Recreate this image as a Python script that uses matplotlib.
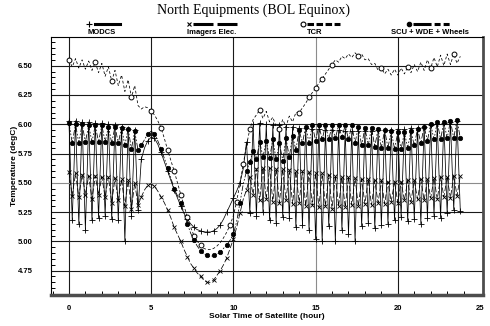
import numpy as np
import matplotlib
matplotlib.use("Agg")
import matplotlib.pyplot as plt
from matplotlib.lines import Line2D

plt.rcParams["lines.scale_dashes"] = False

# sample times (hour), one value every 0.2 h
hours = np.round(np.arange(120) * 0.2, 1)

tcr = [
    6.55, 6.49, 6.56, 6.48, 6.55, 6.47, 6.54, 6.46, 6.53, 6.44,
    6.52, 6.41, 6.49, 6.37, 6.46, 6.33, 6.42, 6.28, 6.38, 6.23,
    6.33, 6.16, 6.13, 6.15, 6.14, 6.11, 6.08, 6.03, 5.97, 5.88,
    5.78, 5.69, 5.60, 5.50, 5.40, 5.30, 5.21, 5.12, 5.05, 5.00,
    4.97, 4.94, 4.93, 4.93, 4.94, 4.96, 4.99, 5.03, 5.08, 5.14,
    5.22, 5.34, 5.50, 5.66, 5.82, 5.96, 6.04, 6.08, 6.12, 6.05,
    6.11, 6.02, 6.06, 5.98, 5.96, 6.04, 5.98, 6.07, 6.02, 6.10,
    6.10, 6.14, 6.18, 6.23, 6.27, 6.31, 6.35, 6.39, 6.43, 6.47,
    6.51, 6.55, 6.53, 6.58, 6.56, 6.60, 6.57, 6.61, 6.58, 6.60,
    6.55, 6.56, 6.51, 6.52, 6.46, 6.48, 6.43, 6.47, 6.42, 6.47,
    6.42, 6.48, 6.43, 6.49, 6.44, 6.51, 6.45, 6.53, 6.46, 6.55,
    6.48, 6.57, 6.49, 6.59, 6.50, 6.60, 6.51, 6.60, 6.52, 6.58,
]

scu = [
    6.01, 5.84, 6.00, 5.84, 6.00, 5.85, 5.99, 5.85, 5.99, 5.85,
    5.99, 5.85, 5.98, 5.84, 5.98, 5.84, 5.97, 5.82, 5.96, 5.79,
    5.94, 5.78, 5.82, 5.87, 5.92, 5.94, 5.92, 5.86, 5.79, 5.71,
    5.63, 5.54, 5.45, 5.39, 5.33, 5.24, 5.15, 5.07, 5.01, 4.96,
    4.92, 4.89, 4.88, 4.87, 4.88, 4.89, 4.91, 4.94, 4.97, 5.01,
    5.06, 5.17, 5.33, 5.49, 5.60, 5.68, 5.77, 5.70, 5.85, 5.72,
    5.86, 5.71, 5.87, 5.70, 5.84, 5.69, 5.88, 5.72, 5.90, 5.78,
    5.95, 5.84, 5.98, 5.84, 5.99, 5.86, 5.99, 5.87, 5.99, 5.87,
    5.99, 5.88, 5.99, 5.89, 5.99, 5.87, 5.99, 5.84, 5.98, 5.82,
    5.97, 5.82, 5.97, 5.81, 5.96, 5.80, 5.95, 5.80, 5.94, 5.79,
    5.93, 5.79, 5.93, 5.80, 5.94, 5.82, 5.96, 5.84, 5.98, 5.86,
    6.00, 5.87, 6.02, 5.87, 6.02, 5.88, 6.03, 5.88, 6.04, 5.88,
]

modcs = [
    6.03, 5.18, 6.03, 5.15, 6.02, 5.10, 6.02, 5.18, 6.01, 5.20,
    6.01, 5.22, 6.00, 5.19, 5.99, 5.18, 5.98, 5.00, 5.96, 5.22,
    5.95, 5.27, 5.70, 5.80, 5.86, 5.89, 5.88, 5.83, 5.76, 5.68,
    5.60, 5.52, 5.44, 5.37, 5.30, 5.24, 5.19, 5.15, 5.12, 5.10,
    5.09, 5.08, 5.08, 5.08, 5.09, 5.11, 5.14, 5.19, 5.25, 5.31,
    5.37, 5.43, 5.50, 5.62, 5.85, 5.24, 6.00, 5.22, 6.01, 5.25,
    6.00, 5.18, 5.99, 5.16, 5.99, 5.21, 5.98, 5.20, 5.98, 5.12,
    5.97, 5.14, 5.97, 5.10, 5.96, 5.02, 5.96, 5.00, 5.95, 5.13,
    5.95, 5.00, 5.95, 5.10, 5.94, 5.06, 5.94, 5.00, 5.94, 5.13,
    5.94, 5.16, 5.94, 5.11, 5.95, 5.14, 5.95, 5.15, 5.95, 5.18,
    5.96, 5.21, 5.96, 5.17, 5.97, 5.19, 5.97, 5.15, 5.98, 5.20,
    5.99, 5.22, 6.00, 5.20, 6.01, 5.24, 6.02, 5.27, 6.03, 5.26,
]

imagers = [
    5.59, 5.39, 5.58, 5.38, 5.57, 5.40, 5.56, 5.36, 5.56, 5.40,
    5.55, 5.38, 5.55, 5.33, 5.54, 5.35, 5.53, 5.30, 5.52, 5.28,
    5.50, 5.31, 5.38, 5.44, 5.48, 5.49, 5.47, 5.43, 5.38, 5.33,
    5.27, 5.20, 5.12, 5.06, 5.00, 4.93, 4.87, 4.81, 4.77, 4.73,
    4.70, 4.67, 4.65, 4.65, 4.67, 4.71, 4.75, 4.80, 4.86, 4.94,
    5.02, 5.12, 5.24, 5.36, 5.44, 5.55, 5.40, 5.62, 5.35, 5.63,
    5.36, 5.63, 5.34, 5.62, 5.33, 5.62, 5.35, 5.61, 5.32, 5.60,
    5.33, 5.60, 5.30, 5.59, 5.31, 5.58, 5.29, 5.58, 5.30, 5.57,
    5.28, 5.56, 5.30, 5.55, 5.29, 5.55, 5.31, 5.54, 5.30, 5.53,
    5.32, 5.53, 5.31, 5.52, 5.33, 5.52, 5.32, 5.51, 5.34, 5.51,
    5.33, 5.51, 5.35, 5.52, 5.34, 5.52, 5.36, 5.53, 5.35, 5.53,
    5.37, 5.54, 5.36, 5.55, 5.38, 5.55, 5.37, 5.56, 5.39, 5.56,
]

labels = ["MODCS", "Imagers Elec.", "TCR", "SCU + WDE + Wheels"]
x_ticks = [0, 5, 10, 15, 20, 25]
y_ticks = [4.75, 5.00, 5.25, 5.50, 5.75, 6.00, 6.25, 6.50]

# marker indices
tcr_marks = [0, 8, 13, 19, 25, 28, 30, 32, 34, 36, 38, 40, 49, 51, 53, 55,
             58, 64, 70, 73, 75, 77, 80, 88, 95, 103, 110, 117]
osc = [i for i in range(120) if i < 22 or i > 54]
smooth = list(range(22, 55, 2))
dense_marks = sorted(osc + smooth)

styles = [
    dict(marker="+", ls="-", ms=4, mew=0.6, markevery=dense_marks),
    dict(marker="x", dashes=(4, 1.5), ms=3, mew=0.6, markevery=dense_marks),
    dict(marker="o", dashes=(2, 1.5), ms=3.5, mew=0.7, mfc="white",
         markevery=tcr_marks),
    dict(marker="o", dashes=(4, 1.2, 1.2, 1.2, 1.2, 1.2), ms=3.2, mew=0.5,
         mfc="black", markevery=dense_marks),
]
series = [modcs, imagers, tcr, scu]

W, H = 490, 326
fig = plt.figure(figsize=(W / 100, H / 100), dpi=100)
ax = fig.add_axes([50.7 / W, 1 - 295 / H, (483 - 50.7) / W, (295 - 37) / H])

sans = "Liberation Sans"

for x in x_ticks[:-1]:
    ax.axvline(x, color="0.55" if x == 15 else "0.1", lw=0.8, zorder=1)
for y in y_ticks:
    ax.axhline(y, color="0.55" if y == 5.50 else "0.1", lw=0.8, zorder=1)

for vals, st in zip(series, styles):
    ax.plot(hours, vals, color="black", lw=0.55, zorder=3, **st)

ax.set_xlim(-1.11, 25.18)
ax.set_ylim(4.542, 6.745)
ax.set_xticks(x_ticks)
ax.set_yticks(y_ticks)
ax.set_xticks(np.arange(-1, 26), minor=True)
ax.set_yticks(np.arange(4.55, 6.75, 0.05), minor=True)
ax.set_yticklabels([f"{v:.2f}" for v in y_ticks])
ax.tick_params(axis="both", which="major", direction="in", length=0,
               labelsize=5.5)
ax.tick_params(axis="y", which="major", pad=13)
ax.tick_params(axis="x", which="major", pad=7)
ax.tick_params(axis="both", which="minor", direction="in", length=3,
               width=0.7)
for lab in ax.get_xticklabels() + ax.get_yticklabels():
    lab.set_family(sans)
    lab.set_fontweight("bold")

ax.spines["bottom"].set_linewidth(2.5)
ax.spines["bottom"].set_color("0.3")
ax.spines["right"].set_linewidth(2.0)
ax.spines["right"].set_color("0.3")
ax.spines["left"].set_linewidth(0.8)
ax.spines["top"].set_linewidth(0.8)


def fx(px):
    return px / W


def fy(py):
    return 1 - py / H


fig.text(fx(253), fy(10), "North Equipments (BOL Equinox)",
         family="Liberation Serif", fontsize=10, ha="center", va="center")
fig.text(fx(267), fy(316), "Solar Time of Satellite (hour)", family=sans,
         fontsize=6, fontweight="bold", ha="center", va="center")
fig.text(fx(14), fy(166), "Temperature (degC)", family=sans, fontsize=6,
         fontweight="bold", ha="center", va="center", rotation=90)

# legend across the top
mark_x = [89, 189, 303, 409]
line_x = [(95, 120), (193, 237), (307, 340), (413, 452)]
label_x = [102, 212, 315, 430]
leg_dashes = [None, (14.4, 2.9), (4.7, 1.8), (13, 2.2, 4.3, 2.2, 4.3, 2.2)]
for lab, st, mx, (x0, x1), lx, dsh in zip(labels, styles, mark_x, line_x,
                                         label_x, leg_dashes):
    fig.add_artist(Line2D([fx(mx)], [fy(24)], transform=fig.transFigure,
                          marker=st["marker"], color="black", ls="none",
                          ms=st["ms"], mew=0.8, mfc=st.get("mfc", "black")))
    ln = Line2D([fx(x0), fx(x1)], [fy(24), fy(24)], transform=fig.transFigure,
                color="black", lw=2.2)
    if dsh is not None:
        ln.set_dashes(dsh)
    fig.add_artist(ln)
    fig.text(fx(lx), fy(32), lab, family=sans, fontsize=5.5,
             fontweight="bold", ha="center", va="center")

fig.savefig("out.png", dpi=100)
